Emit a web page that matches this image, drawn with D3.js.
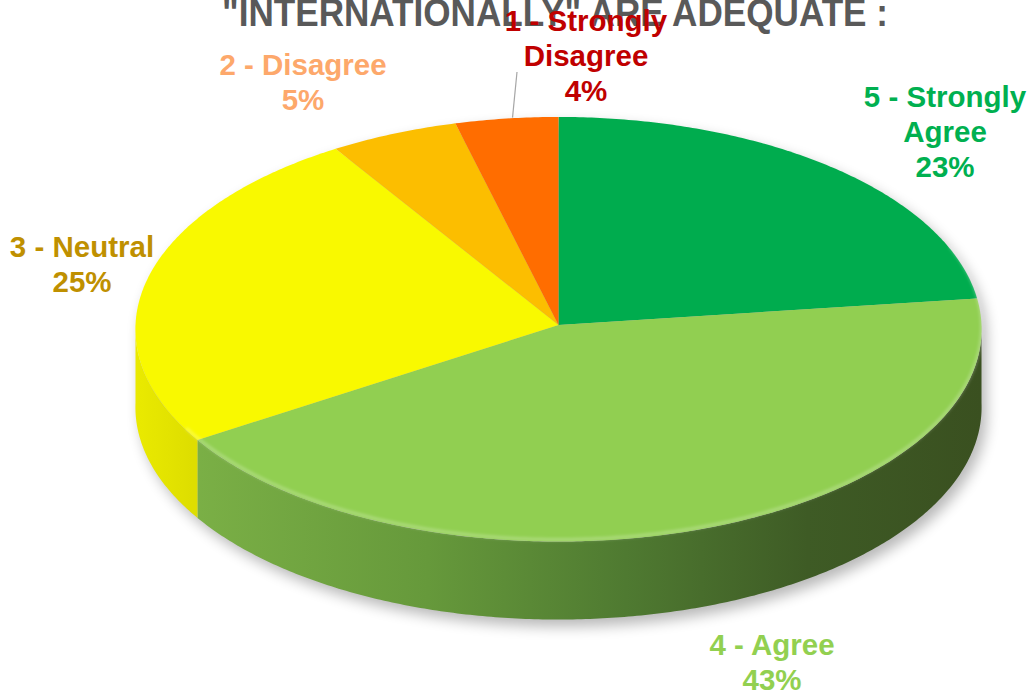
<!DOCTYPE html>
<html>
  <head>
    <meta charset="UTF-8">
    <title>3D pie</title>
    <style>
    body { margin: 0; background: #fff; }
    svg { display: block; }
    text { font-family: "Liberation Sans", Arial, sans-serif; font-weight: bold; }
    </style>
  </head>
  <body>
    <svg id="chart" width="1031" height="694"></svg>
  </body>
  <script src="https://cdn.jsdelivr.net/npm/d3@7/dist/d3.min.js"></script>
  <script>
  var titleText = '"INTERNATIONALLY" ARE ADEQUATE :';
  var categories = ["5 - Strongly Agree", "4 - Agree", "3 - Neutral", "2 - Disagree", "1 - Strongly Disagree"];
  var labelLines = [["5 - Strongly", "Agree"], ["4 - Agree"], ["3 - Neutral"], ["2 - Disagree"], ["1 - Strongly", "Disagree"]];
  var values = [23, 43, 25, 5, 4];

  var topColors = ["#00ac4e", "#91cf51", "#f9f900", "#fcbe00", "#ff6d00"];
  var sideColors = ["#006d30", "url(#agreeSide)", "url(#neutralSide)", "#c89800", "#c85400"];
  var labelColors = ["#00b050", "#92d050", "#bf9000", "#fda86b", "#c00000"];

  var width = 1031, height = 694;
  var cx = 558.5, cy = 325, rx = 423, ry = 212.2, persp = 0.02, depth = 78;

  var svg = d3.select("#chart");
  var defs = svg.append("defs");

  var g1 = defs.append("linearGradient").attr("id", "agreeSide")
    .attr("gradientUnits", "userSpaceOnUse").attr("x1", 190).attr("x2", 982).attr("y1", 0).attr("y2", 0);
  [[0, "#7bb046"], [0.3, "#66993b"], [0.55, "#4f7a31"], [0.78, "#3e5b25"], [1, "#3a5020"]].forEach(function(s) {
    g1.append("stop").attr("offset", s[0]).attr("stop-color", s[1]);
  });
  var g2 = defs.append("linearGradient").attr("id", "neutralSide")
    .attr("gradientUnits", "userSpaceOnUse").attr("x1", 135).attr("x2", 192).attr("y1", 0).attr("y2", 0);
  g2.append("stop").attr("offset", 0).attr("stop-color", "#eaea00");
  g2.append("stop").attr("offset", 1).attr("stop-color", "#dede00");

  defs.append("filter").attr("id", "blur").attr("x", "-20%").attr("y", "-20%").attr("width", "140%").attr("height", "140%")
    .append("feGaussianBlur").attr("stdDeviation", 7);
  defs.append("filter").attr("id", "soft")
    .append("feGaussianBlur").attr("stdDeviation", 1.5);

  // point on the pie rim, angle clockwise from 12 o'clock, z = drop below the top face
  function proj(a, z) {
    var w = 1 + persp * Math.cos(a);
    return [cx + rx * Math.sin(a) / w, cy - ry * Math.cos(a) / w + (z || 0)];
  }

  function arcPts(a0, a1, z) {
    var n = Math.max(2, Math.ceil(Math.abs(a1 - a0) / 0.01));
    return d3.range(n + 1).map(function(i) { return proj(a0 + (a1 - a0) * i / n, z); });
  }

  var line = d3.line();
  var pie = d3.pie().sort(null).value(function(d) { return d; });
  var arcs = pie(values);
  var total = d3.sum(values);

  // shadow under the pie
  var rim = arcPts(Math.PI / 2, 3 * Math.PI / 2, depth);
  var shadowPts = arcPts(-Math.PI / 2, Math.PI / 2, 0).concat(rim);
  svg.append("path")
    .attr("d", line(shadowPts) + "Z")
    .attr("transform", "translate(5,7)")
    .attr("fill", "#000")
    .attr("opacity", 0.28)
    .attr("filter", "url(#blur)");

  // front walls
  var front0 = Math.PI / 2, front1 = 3 * Math.PI / 2;
  svg.append("g").selectAll("path")
    .data(arcs.filter(function(d) { return d.endAngle > front0 && d.startAngle < front1; }))
    .enter().append("path")
    .attr("d", function(d) {
      var a0 = Math.max(d.startAngle, front0), a1 = Math.min(d.endAngle, front1);
      var pts = arcPts(a0, a1, 0).concat(arcPts(a1, a0, depth));
      return line(pts) + "Z";
    })
    .attr("fill", function(d) { return sideColors[d.index]; });

  // top faces
  svg.append("g").selectAll("path")
    .data(arcs)
    .enter().append("path")
    .attr("d", function(d) {
      return line([[cx, cy]].concat(arcPts(d.startAngle, d.endAngle, 0))) + "Z";
    })
    .attr("fill", function(d) { return topColors[d.index]; });

  // soft highlight along the front edge of the top face
  svg.append("path")
    .attr("d", line(arcPts(1.2, 4.2, -2)))
    .attr("fill", "none")
    .attr("stroke", "#ffffff")
    .attr("stroke-opacity", 0.25)
    .attr("stroke-width", 3)
    .attr("filter", "url(#soft)");

  // title (cut at the top edge, as in the original)
  svg.append("text")
    .attr("x", 222).attr("y", 26)
    .attr("textLength", 666).attr("lengthAdjust", "spacingAndGlyphs")
    .attr("font-size", 39)
    .attr("fill", "#595959")
    .text(titleText);

  // data labels
  var labelAt = [[945, 107], [772, 655], [82, 257], [303, 75], [586, 31]];
  var lineH = 35;

  // leader line for the small slice
  var sd = arcs[4];
  var tip = proj((sd.startAngle + sd.endAngle) / 2, -1);
  svg.append("line")
    .attr("x1", 517).attr("y1", 72)
    .attr("x2", tip[0] + 6).attr("y2", tip[1])
    .attr("stroke", "#a6a6a6").attr("stroke-width", 1.2);

  var labels = svg.append("g").selectAll("text")
    .data(arcs)
    .enter().append("text")
    .attr("text-anchor", "middle")
    .attr("font-size", 29.5)
    .attr("fill", function(d) { return labelColors[d.index]; });

  labels.each(function(d) {
    var t = d3.select(this);
    var pos = labelAt[d.index];
    var lines = labelLines[d.index].concat([Math.round(d.value / total * 100) + "%"]);
    lines.forEach(function(s, i) {
      t.append("tspan").attr("x", pos[0]).attr("y", pos[1] + i * lineH).text(s);
    });
  });
  </script>
</html>
